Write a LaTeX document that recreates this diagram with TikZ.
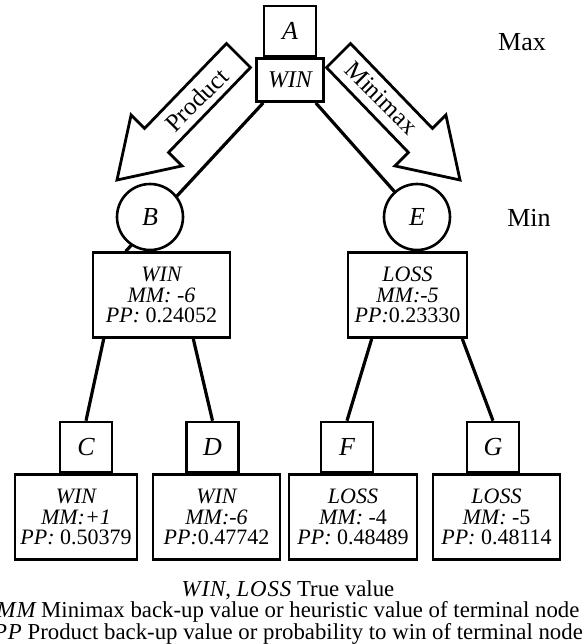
\documentclass[tikz,border=0pt]{standalone}
\usepackage{fontspec}
\setmainfont{Liberation Serif}
\usetikzlibrary{positioning, backgrounds}

\newcommand{\legv}[1]{{\itshape\addfontfeatures{LetterSpace=4}#1}}

\begin{document}
\begin{tikzpicture}[
  x=0.5pt, y=-0.5pt,
  font=\fontsize{11}{10.3}\selectfont,
  letter/.style={draw, line width=1.3pt, fill=white, minimum width=26pt, minimum height=25pt, inner sep=0pt, font=\fontsize{13}{13}\selectfont\itshape},
  circ/.style={draw, circle, line width=1.3pt, fill=white, minimum size=33pt, inner sep=0pt, font=\fontsize{13}{13}\selectfont\itshape},
  val/.style={draw, line width=1.3pt, fill=white, align=center, inner sep=0pt, minimum height=42.5pt, font=\fontsize{11}{10.3}\selectfont\itshape, execute at begin node={\rule{0pt}{22pt}}},
  hollow/.style={draw, line width=1.4pt, fill=white, line join=miter},
  edge/.style={line width=1.6pt},
  level/.style={font=\fontsize{13}{13}\selectfont}
]
  \useasboundingbox (0,0) rectangle (583,644);

  % root
  \node[letter] (A) at (290,31) {A};
  \node[draw, line width=1.3pt, fill=white, minimum width=33.5pt, minimum height=21.5pt, inner sep=0pt, font=\fontsize{12}{12}\selectfont\itshape, below=0pt of A] (win) {WIN};
  \node[level] (max) at (522,42) {Max};

  % min level
  \node[circ] (B) at (150,217) {B};
  \node[circ] (E) at (417,217) {E};
  \node[level] (min) at (529,218) {Min};
  \node[val, minimum width=68.5pt, below=0pt of B, xshift=5.75pt] (Bv) {WIN\\ MM: -6\\ PP:\upshape{} 0.24052};
  \node[val, minimum width=59.5pt, below=0pt of E, xshift=-4.75pt] (Ev) {LOSS\\ MM:-5\\ PP:\upshape 0.23330};

  % leaves
  \node[letter] (C) at (86,447) {C};
  \node[letter] (D) at (212.5,447) {D};
  \node[letter] (F) at (347,447) {F};
  \node[letter] (G) at (493,447) {G};
  \node[val, minimum width=61pt, below=0pt of C, xshift=-5pt] (Cv) {WIN\\ MM:+1\\ PP:\upshape{} 0.50379};
  \node[val, minimum width=63.5pt, below=0pt of D, xshift=2pt] (Dv) {WIN\\ MM:-6\\ PP:\upshape 0.47742};
  \node[val, minimum width=64pt, below=0pt of F, xshift=3pt] (Fv) {LOSS\\ MM:\upshape{} -4\\ PP:\upshape{} 0.48489};
  \node[val, minimum width=63.5pt, below=0pt of G, xshift=1.75pt] (Gv) {LOSS\\ MM:\upshape{} -5\\ PP:\upshape{} 0.48114};

  % back-up arrows
  \draw[hollow] (226.5,43.5) -- (144.6,128.4) -- (131.1,114.9) -- (117,180)
    -- (182.1,165.9) -- (168.6,152.4) -- (250.5,67.5) -- cycle;
  \draw[hollow] (350.5,43.5) -- (432.4,128.4) -- (445.9,114.9) -- (460,180)
    -- (394.9,165.9) -- (408.4,152.4) -- (326.5,67.5) -- cycle;
  \node[rotate=45, font=\fontsize{12.5}{12.5}\selectfont] (prod) at (196.5,100) {Product};
  \node[rotate=-45, font=\fontsize{12.5}{12.5}\selectfont] (mini) at (381.5,98) {Minimax};

  \begin{scope}[on background layer]
    \draw[edge] ([xshift=4pt]win.south west) -- ([xshift=17pt]Bv.north west);
    \draw[edge] ([xshift=-4.5pt]win.south east) -- (E);
    \draw[edge] ([xshift=6pt]Bv.south west) -- (C.north);
    \draw[edge] ([xshift=-19pt]Bv.south east) -- (D.north);
    \draw[edge] ([xshift=12.5pt]Ev.south west) -- (F.north);
    \draw[edge] ([xshift=-3pt]Ev.south east) -- (G.north);
  \end{scope}

  % legend
  \node[anchor=north, align=center, font=\fontsize{11.4}{10.7}\selectfont, inner sep=0pt] (legend) at (288,580)
    {\legv{WIN}, \legv{LOSS} True value\\
     \legv{MM} Minimax back-up value or heuristic value of terminal node\\
     \legv{PP} Product back-up value or probability to win of terminal node};
\end{tikzpicture}
\end{document}
